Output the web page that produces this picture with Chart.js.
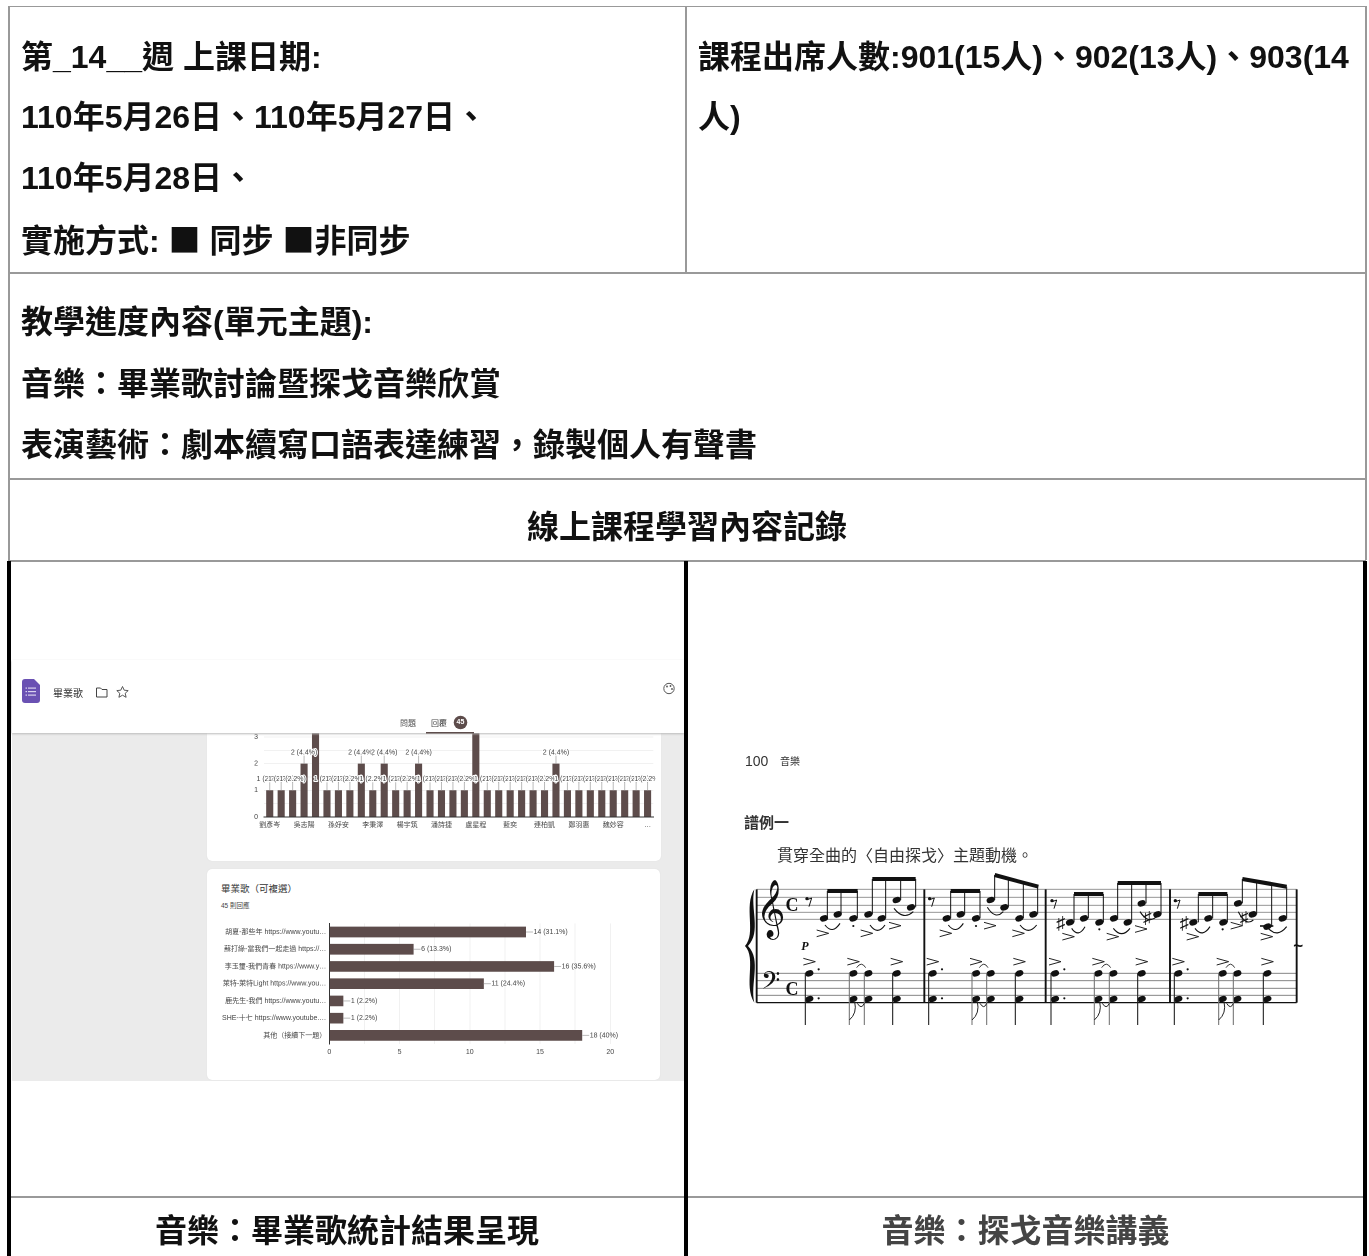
<!DOCTYPE html>
<html lang="zh-Hant"><head><meta charset="utf-8">
<script src="https://cdn.jsdelivr.net/npm/chart.js@4"></script>
<style>
html,body{margin:0;padding:0;background:#fff;width:1369px;height:1256px;overflow:hidden}
body{position:relative;font-family:"Liberation Sans","Noto Sans CJK TC",sans-serif;color:#111}
.l{position:absolute;background:#999}
.k{position:absolute;background:#000}
.t{position:absolute;font-weight:700;font-size:32px;line-height:40px;white-space:nowrap;transform:translateY(-50%)}
.t span{font-family:"Noto Sans CJK TC"}
.c{text-align:center}
.a{position:absolute;white-space:nowrap}
#shot{position:absolute;left:0;top:0;width:1369px;height:1256px;filter:blur(.35px)}
canvas{position:absolute}
.card{position:absolute;background:#fff;border-radius:5px;box-shadow:0 0 1px #d5d5d5}
</style></head><body>
<div id="shot">
  <div style="position:absolute;left:12px;top:733px;width:672px;height:348px;background:#ebebeb"></div>
  <div class="card" style="left:207px;top:700px;width:454px;height:161px"></div>
  <div class="card" style="left:207px;top:869px;width:453px;height:211px"></div>
  <canvas id="c1" style="left:206px;top:700px;width:455px;height:150px"></canvas>
  <canvas id="c2" style="left:206px;top:915px;width:455px;height:150px"></canvas>
  <div class="a" style="left:221px;top:881px;font-size:9.5px;color:#333">畢業歌（可複選）</div>
  <div class="a" style="left:221px;top:900px;font-size:6.5px;color:#444">45 則回應</div>
  <div style="position:absolute;left:12px;top:660px;width:672px;height:73px;background:#fff;box-shadow:0 1px 2px #bbb"></div>
  <svg style="position:absolute;left:0;top:660px" width="690" height="80">
    <path d="M22 22 q0-3 3-3 h9 l6 6 v15 q0 3-3 3 h-12 q-3 0-3-3z" fill="#6a51b3"/>
    <g fill="#d9d2ee"><rect x="28" y="27.500" width="8" height="1.200"/><rect x="28" y="31" width="8" height="1.200"/><rect x="28" y="34.500" width="8" height="1.200"/><rect x="25.500" y="27.500" width="1.500" height="1.200"/><rect x="25.500" y="31" width="1.500" height="1.200"/><rect x="25.500" y="34.500" width="1.500" height="1.200"/></g>
    <path d="M96.500 28 h4 l1.500 1.500 h5 v7.500 h-10.500z" fill="none" stroke="#444"/>
    <path d="M122.500 26.500 l1.700 3.700 4 .4 -3 2.700 .9 4 -3.600-2.100 -3.600 2.100 .9-4 -3-2.700 4-.4z" fill="none" stroke="#444" stroke-width=".9"/>
    <circle cx="669" cy="28.500" r="5.200" fill="none" stroke="#555"/><circle cx="667" cy="26.500" r=".9" fill="#555"/><circle cx="670.500" cy="26" r=".9" fill="#555"/><circle cx="672" cy="29" r=".9" fill="#555"/>
    <circle cx="460.500" cy="62.500" r="6.800" fill="#5d4c4b"/>
    <rect x="426" y="72" width="48" height="1.500" fill="#5d4c4b"/>
  </svg>
  <div class="a" style="left:53px;top:685px;font-size:10px;color:#333">畢業歌</div>
  <div class="a" style="left:400px;top:717px;font-size:8px;color:#555">問題</div>
  <div class="a" style="left:431px;top:717px;font-size:8px;color:#444">回覆</div>
  <div class="a" style="left:454px;top:718px;width:13px;text-align:center;font-size:7px;font-weight:700;color:#fff">45</div>
</div>

<div class="l" style="left:8px;top:6px;width:1358px;height:1px"></div>
<div class="l" style="left:8px;top:272px;width:1358px;height:1.500px"></div>
<div class="l" style="left:8px;top:478px;width:1358px;height:1.500px"></div>
<div class="l" style="left:8px;top:560px;width:1358px;height:1.500px"></div>
<div class="l" style="left:8px;top:1196px;width:1358px;height:1.500px"></div>
<div class="l" style="left:8px;top:6px;width:1.500px;height:554px"></div>
<div class="l" style="left:1365px;top:6px;width:1.500px;height:554px"></div>
<div class="l" style="left:685px;top:6px;width:1.500px;height:266px"></div>
<div class="k" style="left:6.500px;top:561px;width:4px;height:695px"></div>
<div class="k" style="left:684px;top:561px;width:4px;height:695px"></div>
<div class="k" style="left:1362.500px;top:561px;width:4px;height:695px"></div>

<div class="t" style="left:21px;top:57px">第_14__週 上課日期:</div>
<div class="t" style="left:21px;top:117px">110年5月26日、110年5月27日、</div>
<div class="t" style="left:21px;top:178px">110年5月28日、</div>
<div class="t" style="left:21px;top:239px">實施方式: <span>■</span> 同步 <span>■</span>非同步</div>
<div class="t" style="left:698px;top:57px">課程出席人數:901(15人)、902(13人)、903(14</div>
<div class="t" style="left:698px;top:117px">人)</div>
<div class="t" style="left:21px;top:322px">教學進度內容(單元主題):</div>
<div class="t" style="left:21px;top:384px">音樂：畢業歌討論暨探戈音樂欣賞</div>
<div class="t" style="left:21px;top:445px">表演藝術：劇本續寫口語表達練習，錄製個人有聲書</div>
<div class="t c" style="left:8px;width:1358px;top:527px">線上課程學習內容記錄</div>
<div class="t c" style="left:8px;width:678px;top:1231px">音樂：畢業歌統計結果呈現</div>
<div class="t c" style="left:686px;width:679px;top:1231px;color:#444">音樂：探戈音樂講義</div>

<div class="a" style="left:745px;top:753px;font-size:14px;line-height:17px;color:#333;font-weight:400">100</div>
<div class="a" style="left:780px;top:755px;font-size:10px;line-height:13px;color:#333">音樂</div>
<div class="a" style="left:744px;top:813px;font-size:15px;line-height:20px;font-weight:700;color:#333">譜例一</div>
<div class="a" style="left:777px;top:846px;font-size:16px;line-height:20px;color:#333">貫穿全曲的〈自由探戈〉主題動機。</div>
<svg id="score" style="position:absolute;left:0;top:0" width="1369" height="1256"></svg>

<script>
// ---- Chart 1: column chart ----
const nameTicks = ["劉彥岑","吳志陽","孫妤安","李秉澤","楊宇筑","潘詩捷","盧星程","藍奕","連柏凱","鄭羽惠","魏妙容","…"];
const nameCounts = [1,1,1,2,4,1,1,1,2,1,2,1,1,2,1,1,1,1,4,1,1,1,1,1,1,2,1,1,1,1,1,1,1,1];
const columnYTicks = [0,1,2,3];
// ---- Chart 2: graduation song survey ----
const songLabels = ["胡夏-那些年 https://www.youtu…","蘇打綠-當我們一起走過 https://…","李玉璽-我們青春 https://www.y…","萊特-萊特Light https://www.you…","鹿先生-我們 https://www.youtu…","SHE-十七 https://www.youtube.…","其他（接續下一題）"];
const songVotes = [14,6,16,11,1,1,18];
const totalResponses = 45;

const BAR = "#5d4c4b", GRID = "#f1f1f1", TXT = "#444";
Chart.defaults.animation = false;
Chart.defaults.font.family = '"Liberation Sans","Noto Sans CJK TC",sans-serif';
Chart.defaults.font.size = 7;
Chart.defaults.color = TXT;
const pct = v => { const p = (v/totalResponses*100).toFixed(1).replace(/\.0$/,""); return v+" ("+p+"%)"; };

const haloText = (ctx,s,x,y) => {
  ctx.lineWidth = 2; ctx.strokeStyle = "#fff"; ctx.lineJoin = "round";
  ctx.strokeText(s,x,y); ctx.fillStyle = TXT; ctx.fillText(s,x,y);
};
const columnLabels = {id:"columnLabels", afterDatasetsDraw(ch){
  const c = ch.ctx, m = ch.getDatasetMeta(0);
  c.save(); c.beginPath(); c.rect(0,0,ch.chartArea.right+2,ch.height); c.clip();
  c.font = "7px "+Chart.defaults.font.family; c.textAlign="center"; c.textBaseline="middle";
  m.data.forEach((b,i)=>{
    c.strokeStyle="#bbb"; c.lineWidth=1; c.beginPath(); c.moveTo(b.x,b.y); c.lineTo(b.x,b.y-8); c.stroke();
    haloText(c,pct(nameCounts[i]),b.x,b.y-11);
  });
  c.restore();
}};
const songValueLabels = {id:"songValueLabels", afterDatasetsDraw(ch){
  const c = ch.ctx, m = ch.getDatasetMeta(0);
  c.save(); c.font = "7px "+Chart.defaults.font.family; c.textAlign="left"; c.textBaseline="middle";
  m.data.forEach((b,i)=>{
    c.strokeStyle="#bbb"; c.lineWidth=1; c.beginPath(); c.moveTo(b.x,b.y); c.lineTo(b.x+7,b.y); c.stroke();
    c.fillStyle=TXT; c.fillText(pct(songVotes[i]),b.x+7.5,b.y);
  });
  c.restore();
}};

new Chart(document.getElementById("c1"),{
  type:"bar",
  data:{labels:nameCounts.map((_,i)=> i%3===0 ? nameTicks[i/3] : ""),
        datasets:[{data:nameCounts,backgroundColor:BAR,barPercentage:.62,categoryPercentage:1}]},
  plugins:[columnLabels],
  options:{responsive:false,devicePixelRatio:2,
    layout:{autoPadding:false,padding:{top:10.2,right:7.7,left:0,bottom:0}},
    plugins:{legend:{display:false},tooltip:{enabled:false}},
    scales:{
      x:{afterFit:s=>{s.height=33},grid:{display:false,drawTicks:false},border:{color:"#333"},
         ticks:{autoSkip:false,maxRotation:0,padding:4,color:TXT}},
      y:{min:0,max:4,afterFit:s=>{s.width=58},grid:{color:GRID,drawTicks:false},border:{display:false},
         ticks:{stepSize:.5,autoSkip:false,padding:6,color:TXT,
                callback:v=>columnYTicks.includes(v)?String(v):""}}
    }}
});
new Chart(document.getElementById("c2"),{
  type:"bar",
  data:{labels:songLabels,datasets:[{data:songVotes,backgroundColor:BAR,barPercentage:.62,categoryPercentage:1}]},
  plugins:[songValueLabels],
  options:{indexAxis:"y",responsive:false,devicePixelRatio:2,
    layout:{autoPadding:false,padding:{top:8.4,right:50.7,left:0,bottom:0}},
    plugins:{legend:{display:false},tooltip:{enabled:false}},
    scales:{
      x:{min:0,max:20,afterFit:s=>{s.height=21},grid:{color:GRID,drawTicks:false},border:{display:false},
         ticks:{stepSize:2.5,autoSkip:false,maxRotation:0,padding:4,color:TXT,callback:v=>v%5===0?String(v):""}},
      y:{afterFit:s=>{s.width=123.3},grid:{display:false,drawTicks:false},border:{color:"#333"},
         ticks:{autoSkip:false,padding:3,color:TXT}}
    }}
});

// ---- Decorative music-score illustration (not chart data) ----
const X = z => 740+z/3, Y = z => 870+z/3;
let s = "";
const line=(a,b,c,d,w=1,col="#111")=>{s+=`<line x1="${X(a)}" y1="${Y(b)}" x2="${X(c)}" y2="${Y(d)}" stroke="${col}" stroke-width="${w}"/>`};
const head=(x,y)=>{s+=`<ellipse cx="${X(x)}" cy="${Y(y)}" rx="4.200" ry="3" transform="rotate(-20 ${X(x)} ${Y(y)})" fill="#111"/>`};
const txt=(x,y,t,sz,st="")=>{s+=`<text x="${X(x)}" y="${Y(y)}" font-size="${sz}" fill="#111" style="${st}" text-anchor="middle">${t}</text>`};
const slur=(a,b,c,d,dep=32)=>{s+=`<path d="M${X(a)} ${Y(b)} Q${X((a+c)/2)} ${Y((b+d)/2+dep)} ${X(c)} ${Y(d)}" fill="none" stroke="#111" stroke-width="1.100"/>`};
const accent=(x,y)=>{s+=`<polyline points="${X(x-18)},${Y(y-10)} ${X(x+18)},${Y(y)} ${X(x-18)},${Y(y+10)}" fill="none" stroke="#222" stroke-width="1"/>`};
const rest=(x,y)=>{s+=`<circle cx="${X(x-6)}" cy="${Y(y-6)}" r="1.700" fill="#111"/>`; line(x-6,y-3,x+8,y-8,1); line(x+8,y-8,x,y+18,1);};
const dot=(x,y)=>{s+=`<circle cx="${X(x)}" cy="${Y(y)}" r="1.100" fill="#111"/>`};

for(const t of [58,82,106,127,148]) line(50,t,1670,t,.9,"#8a8a8a");
for(const t of [310,332,355,376]) line(50,t,1670,t,.9,"#777");
line(50,398,1670,398,1.2,"#111");
for(const b of [50,553,917,1290,1670]) line(b,58,b,398,1.9);

const trebleMeasures = [
 {h:[252,293,340,385,425,470,513],y:[145,133,145,133,145,90,112],st:[262,303,352,397,437,482,527],b:[[262,63,353,63],[397,27,527,27]],
  acc:[[248,190],[380,190],[465,167]],dot:[340,168],sl:[[255,165,300,160],[390,165,435,165],[462,115,520,125]],r:[207,92]},
 {h:[620,662,708,752,793,838,880],y:[145,133,145,90,112,145,133],st:[632,674,720,764,805,850,893],b:[[632,63,720,63],[764,15,895,50]],
  acc:[[617,190],[750,167],[835,190]],dot:[708,168],sl:[[625,165,670,160],[742,112,790,125],[840,165,890,165]],r:[575,92]},
 {h:[990,1032,1078,1122,1163,1205,1252],y:[157,145,157,145,157,100,133],st:[1002,1045,1090,1133,1175,1218,1263],b:[[1002,72,1090,72],[1133,39,1263,39]],
  acc:[[985,200],[1118,200],[1203,177]],dot:[1078,178],sl:[[995,175,1035,170],[1120,175,1170,175],[1200,125,1250,140]],r:[942,98]},
 {h:[1360,1405,1450,1494,1538,1582,1628],y:[157,145,157,100,133,170,145],st:[1375,1418,1462,1507,1550,1595,1640],b:[[1375,72,1462,72],[1507,27,1640,50]],
  acc:[[1358,200],[1490,167],[1580,200]],dot:[1448,178],sl:[[1365,175,1410,170],[1495,125,1540,150],[1585,175,1640,170]],r:[1312,98]}
];
trebleMeasures.forEach(m=>{
  m.h.forEach((x,i)=>{
    head(x,m.y[i]);
    const sx=m.st[i],[a,b,c,d]=m.b[i<3?0:1];
    line(sx,m.y[i],sx,b+(d-b)*(sx-a)/(c-a),1);
  });
  m.b.forEach(([a,b,c,d])=>line(a,b,c,d,4));
  m.acc.forEach(([x,y])=>accent(x,y));
  m.sl.forEach(([a,b,c,d])=>slur(a,b,c,d));
  dot(m.dot[0],m.dot[1]);
  rest(m.r[0],m.r[1]);
});
[[208,340,385,470],[578,708,752,838],[945,1075,1120,1205],[1315,1448,1492,1582]].forEach(xs=>{
  xs.forEach((x,i)=>{
    head(x,310); head(x,387);
    line(x-12,310,x-12,465,1.1,i%3===0?"#222":"#777");
    if(i===0){dot(x+28,298);dot(x+28,385);}
    if(i!==2) accent(x,275);
  });
  s+=`<path d="M${X(xs[1]+10)} ${Y(293)} Q${X(xs[1]+24)} ${Y(272)} ${X(xs[2]-8)} ${Y(293)}" fill="none" stroke="#222" stroke-width=".9"/>`;
  s+=`<path d="M${X(xs[1]-12)} ${Y(450)} Q${X(xs[1]+12)} ${Y(430)} ${X(xs[1]+4)} ${Y(395)} M${X(xs[1]+12)} ${Y(400)} Q${X(xs[1]+24)} ${Y(420)} ${X(xs[2]-12)} ${Y(400)}" fill="none" stroke="#222" stroke-width="1"/>`;
});
[962,1333].forEach(x=>txt(x,178,"♯",18));
[1222,1512].forEach(x=>txt(x,158,"♯",17));
line(1560,168,1600,168,1.600);
txt(92,165,"𝄞",50,"font-family:'DejaVu Sans'");
txt(92,372,"𝄢",30,"font-family:'DejaVu Sans'");
txt(156,122,"C",18,"font-family:'Liberation Serif';font-weight:700");
txt(156,374,"C",18,"font-family:'Liberation Serif';font-weight:700");
txt(195,240,"P",12,"font-family:'Liberation Serif';font-weight:700;font-style:italic");
s+=`<path d="M${X(43)} ${Y(58)} C${X(10)} ${Y(110)} ${X(50)} ${Y(190)} ${X(15)} ${Y(228)} C${X(50)} ${Y(266)} ${X(10)} ${Y(346)} ${X(43)} ${Y(398)} C${X(30)} ${Y(340)} ${X(65)} ${Y(270)} ${X(24)} ${Y(228)} C${X(65)} ${Y(186)} ${X(30)} ${Y(116)} ${X(43)} ${Y(58)}z" fill="#111"/>`;
txt(1675,244,"~",17,"font-weight:700");
document.getElementById("score").innerHTML = s;
</script>
</body></html>
